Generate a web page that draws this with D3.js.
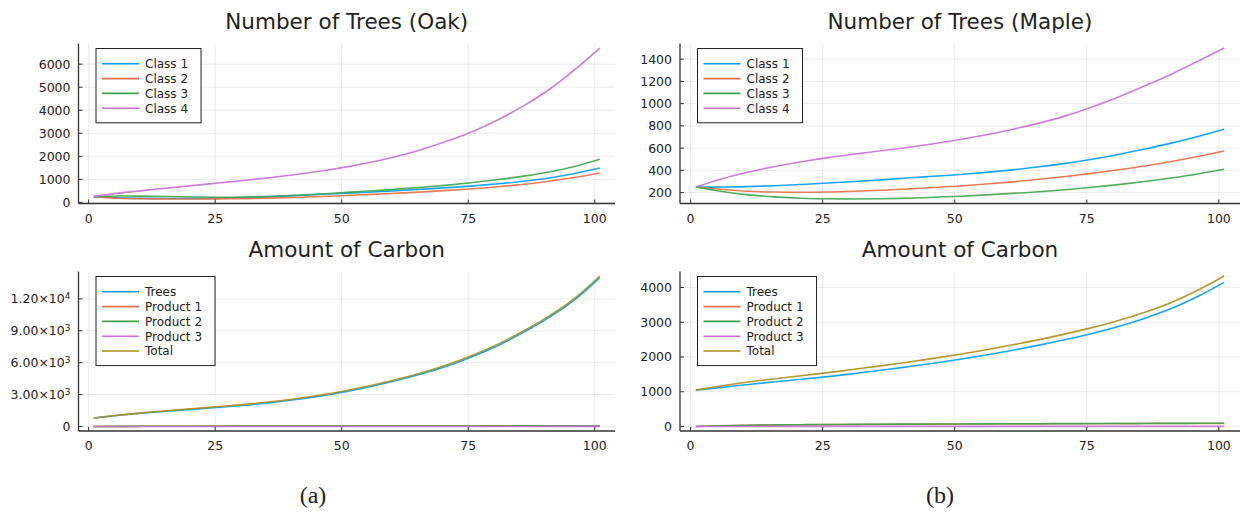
<!DOCTYPE html>
<html>
<head>
<meta charset="utf-8">
<script src="https://cdn.jsdelivr.net/npm/d3@7"></script>
<style>
  body { margin: 0; background: #fff; }
  text { font-family: "DejaVu Sans", sans-serif; fill: #222; }
</style>
</head>
<body>
<svg id="svg" width="1242" height="512"></svg>
<script>
// time steps (read every 5 steps off the picture)
var years = [1,6,11,16,21,26,31,36,41,46,51,56,61,66,71,76,81,86,91,96,101];
var xTicks = [0,25,50,75,100];

var classNames = ["Class 1","Class 2","Class 3","Class 4"];
var carbonNames = ["Trees","Product 1","Product 2","Product 3","Total"];

// Number of trees, oak
var oakClass1 = [250,195,175,170,172,180,215,255,300,350,400,450,510,575,640,715,810,920,1060,1250,1490];
var oakClass2 = [250,180,155,148,148,152,165,185,215,255,300,348,400,455,520,595,680,790,920,1080,1275];
var oakClass3 = [250,275,270,255,235,222,230,258,305,365,435,505,575,655,750,860,990,1140,1320,1560,1870];
var oakClass4 = [250,400,520,630,740,850,960,1080,1210,1360,1540,1750,2000,2310,2670,3090,3600,4200,4900,5750,6700];

// Number of trees, maple
var mapleClass1 = [250,250,255,262,273,286,300,315,331,347,363,382,405,432,463,500,543,592,645,705,770];
var mapleClass2 = [250,228,212,205,203,205,212,222,233,246,260,277,297,320,345,373,405,440,480,525,575];
var mapleClass3 = [250,210,180,162,150,145,143,145,150,158,168,180,193,208,226,248,272,300,332,368,410];
var mapleClass4 = [250,325,385,435,478,515,546,576,606,640,678,720,770,825,890,970,1060,1160,1265,1380,1500];

// Amount of carbon, oak
var oakTrees = [800,1050,1263,1452,1634,1818,2013,2248,2533,2878,3303,3787,4341,4975,5709,6603,7647,8871,10264,11909,14003];
var oakP1 = [0,10,18,24,28,31,34,36,38,40,42,44,46,48,50,52,54,56,58,60,62];
var oakP2 = [0,9,17,22,26,29,31,33,35,37,39,41,43,45,47,49,51,53,55,57,59];
var oakP3 = [0,1,1,2,2,2,3,3,3,3,4,4,4,4,5,5,5,5,6,6,6];
var oakTotal = [800,1070,1300,1500,1690,1880,2080,2320,2610,2960,3390,3880,4440,5080,5820,6720,7770,9000,10400,12050,14150];

// Amount of carbon, maple
var mapleTrees = [1046,1126,1209,1286,1358,1436,1523,1616,1715,1818,1934,2059,2195,2341,2502,2678,2878,3114,3392,3738,4146];
var mapleP1 = [0,21,34,43,50,55,59,62,65,68,70,72,74,76,78,80,82,84,85,87,88];
var mapleP2 = [0,22,36,45,52,57,61,65,68,71,73,76,78,80,82,84,86,88,89,91,92];
var mapleP3 = [0,1,1,1,2,2,2,2,2,3,3,3,3,3,3,3,4,4,4,4,4];
var mapleTotal = [1046,1170,1280,1375,1462,1550,1645,1745,1850,1960,2080,2210,2350,2500,2665,2845,3050,3290,3570,3920,4330];

// y ticks and labels
var oakTreeTicks = [0,1000,2000,3000,4000,5000,6000];
var mapleTreeTicks = [200,400,600,800,1000,1200,1400];
var oakCarbonTicks = [0,3000,6000,9000,12000];
var oakCarbonLabels = [["0",""],["3.00\u00d710","3"],["6.00\u00d710","3"],["9.00\u00d710","3"],["1.20\u00d710","4"]];
var mapleCarbonTicks = [0,1000,2000,3000,4000];

var palette = ["#009af9","#e26f46","#3da44d","#c271d2","#ac8d18"];

var svg = d3.select("#svg");

var panels = [
  {title:"Number of Trees (Oak)", left:78.5, right:615, top:43.5, bottom:203.5, titleY:29,
   ticks:oakTreeTicks, names:classNames, series:[oakClass1,oakClass2,oakClass3,oakClass4]},
  {title:"Number of Trees (Maple)", left:680, right:1240, top:43.5, bottom:203.5, titleY:29,
   ticks:mapleTreeTicks, names:classNames, series:[mapleClass1,mapleClass2,mapleClass3,mapleClass4]},
  {title:"Amount of Carbon", left:78.5, right:615, top:271.5, bottom:431, titleY:257,
   ticks:oakCarbonTicks, labels:oakCarbonLabels, names:carbonNames, series:[oakTrees,oakP1,oakP2,oakP3,oakTotal]},
  {title:"Amount of Carbon", left:680, right:1240, top:271.5, bottom:431, titleY:257,
   ticks:mapleCarbonTicks, names:carbonNames, series:[mapleTrees,mapleP1,mapleP2,mapleP3,mapleTotal]}
];

panels.forEach(function(p) {
  var g = svg.append("g");

  // Plots.jl style limits: data extent widened by 3% each side
  var xe = d3.extent(years), xpad = (xe[1] - xe[0]) * 0.03;
  var all = d3.merge(p.series);
  var ye = d3.extent(all), ypad = (ye[1] - ye[0]) * 0.03;

  var x = d3.scaleLinear().domain([xe[0] - xpad, xe[1] + xpad]).range([p.left, p.right]);
  var y = d3.scaleLinear().domain([ye[0] - ypad, ye[1] + ypad]).range([p.bottom, p.top]);

  // grid
  g.selectAll(".gx").data(xTicks).enter().append("line")
    .attr("x1", d => x(d)).attr("x2", d => x(d))
    .attr("y1", p.top).attr("y2", p.bottom)
    .attr("stroke", "#000").attr("stroke-opacity", 0.08).attr("stroke-width", 1);
  g.selectAll(".gy").data(p.ticks).enter().append("line")
    .attr("x1", p.left).attr("x2", p.right)
    .attr("y1", d => y(d)).attr("y2", d => y(d))
    .attr("stroke", "#000").attr("stroke-opacity", 0.08).attr("stroke-width", 1);

  // series
  var line = d3.line()
    .x((d, i) => x(years[i]))
    .y(d => y(d))
    .curve(d3.curveCatmullRom.alpha(0.5));
  p.series.forEach(function(s, i) {
    g.append("path")
      .attr("d", line(s))
      .attr("fill", "none")
      .attr("stroke", palette[i])
      .attr("stroke-width", 1.6)
      .attr("stroke-opacity", 0.9);
  });

  // axes (left + bottom only)
  g.append("line").attr("x1", p.left).attr("x2", p.right).attr("y1", p.bottom).attr("y2", p.bottom)
    .attr("stroke", "#333").attr("stroke-width", 1.3);
  g.append("line").attr("x1", p.left).attr("x2", p.left).attr("y1", p.top).attr("y2", p.bottom)
    .attr("stroke", "#333").attr("stroke-width", 1.3);

  // x ticks
  g.selectAll(".tx").data(xTicks).enter().append("line")
    .attr("x1", d => x(d)).attr("x2", d => x(d))
    .attr("y1", p.bottom).attr("y2", p.bottom - 4)
    .attr("stroke", "#333").attr("stroke-width", 1);
  g.selectAll(".lx").data(xTicks).enter().append("text")
    .attr("x", d => x(d)).attr("y", p.bottom + 19)
    .attr("text-anchor", "middle").attr("font-size", "12.5px")
    .text(d => d);

  // y ticks
  g.selectAll(".ty").data(p.ticks).enter().append("line")
    .attr("x1", p.left).attr("x2", p.left + 4)
    .attr("y1", d => y(d)).attr("y2", d => y(d))
    .attr("stroke", "#333").attr("stroke-width", 1);
  var yl = g.selectAll(".ly").data(p.ticks).enter().append("text")
    .attr("x", p.left - 8).attr("y", d => y(d)).attr("dy", "0.36em")
    .attr("text-anchor", "end").attr("font-size", "12.5px");
  if (p.labels) {
    yl.each(function(d, i) {
      var t = d3.select(this);
      t.append("tspan").text(p.labels[i][0]);
      if (p.labels[i][1]) {
        t.append("tspan").attr("font-size", "9px").attr("dy", "-0.45em").text(p.labels[i][1]);
      }
    });
  } else {
    yl.text(d => d);
  }

  // title
  g.append("text")
    .attr("x", (p.left + p.right) / 2).attr("y", p.titleY)
    .attr("text-anchor", "middle").attr("font-size", "21.5px").attr("fill", "#111")
    .text(p.title);

  // legend
  var lx = p.left + 17.5, ly = p.top + 5, step = 14.8;
  var box = g.append("rect")
    .attr("x", lx).attr("y", ly)
    .attr("fill", "#fff").attr("stroke", "#222").attr("stroke-width", 1);
  var maxW = 0;
  p.names.forEach(function(n, i) {
    var cy = ly + 15.3 + i * step;
    g.append("line").attr("x1", lx + 6).attr("x2", lx + 43).attr("y1", cy).attr("y2", cy)
      .attr("stroke", palette[i]).attr("stroke-width", 1.6);
    var t = g.append("text").attr("x", lx + 49).attr("y", cy).attr("dy", "0.36em")
      .attr("font-size", "12px").text(n);
    maxW = Math.max(maxW, t.node().getComputedTextLength());
  });
  box.attr("width", 49 + maxW + 13)
    .attr("height", 15.3 + (p.names.length - 1) * step + 14.6);
});

// sub-figure captions
svg.append("text").attr("x", 313).attr("y", 503).attr("text-anchor", "middle")
  .style("font-family", "'Liberation Serif', serif").attr("font-size", "24px").attr("fill", "#000")
  .text("(a)");
svg.append("text").attr("x", 940).attr("y", 503).attr("text-anchor", "middle")
  .style("font-family", "'Liberation Serif', serif").attr("font-size", "24px").attr("fill", "#000")
  .text("(b)");
</script>
</body>
</html>
